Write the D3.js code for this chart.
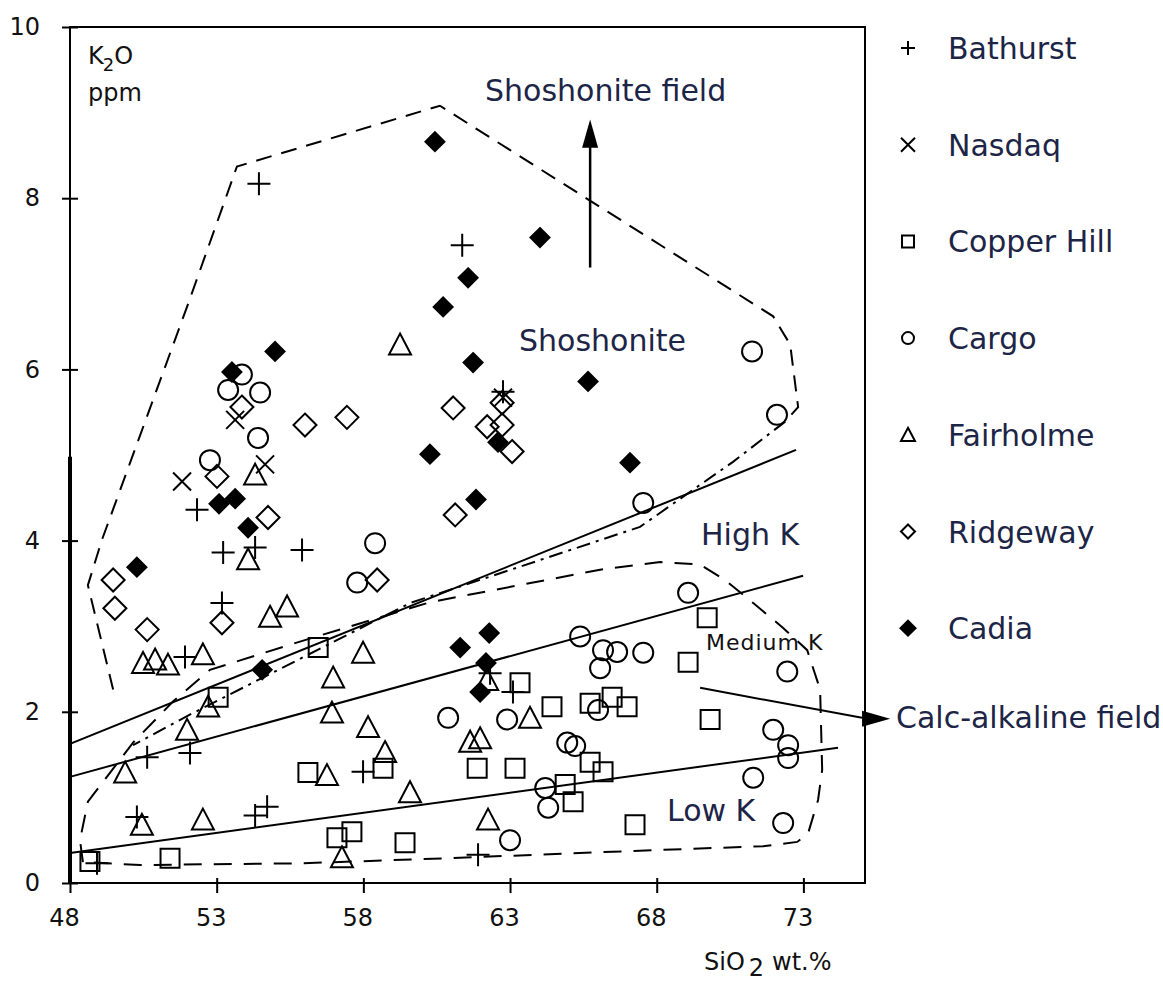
<!DOCTYPE html>
<html>
<head>
<meta charset="utf-8">
<script src="https://cdn.jsdelivr.net/npm/d3@7"></script>
<style>
body { margin: 0; background: #fff; }
svg { display: block; background: #fff; }
.tick text, .px { font-family: "DejaVu Sans", sans-serif; font-size: 24px; fill: #111; }
.lbl { font-family: "DejaVu Sans", sans-serif; font-size: 30px; fill: #1d2547; }
</style>
</head>
<body>
<svg id="chart" width="1163" height="985"></svg>
<script>
// K2O vs SiO2 plot: [SiO2 wt.%, K2O]
const bathurst = [[54.44,8.17],[61.37,7.45],[62.76,5.74],[52.33,4.36],[53.22,3.86],[54.31,3.92],[55.91,3.89],
  [53.18,3.27],[51.92,2.64],[50.63,1.47],[52.09,1.52],[57.99,1.30],[54.72,0.89],[54.31,0.79],[50.28,0.77],
  [48.92,0.23],[61.91,0.33],[62.32,2.45],[63.10,2.23]];
const nasdaq = [[53.63,5.41],[54.65,4.89],[51.82,4.69],[62.76,5.67]];
const copperHill = [[48.68,0.25],[51.41,0.29],[53.05,2.17],[56.11,1.29],[56.46,2.75],[57.10,0.53],[57.61,0.60],
  [58.67,1.34],[59.42,0.47],[61.88,1.34],[63.17,1.34],[63.34,2.34],[64.43,2.06],[65.73,2.10],[66.48,2.17],
  [66.99,2.06],[65.73,1.41],[66.17,1.30],[64.88,1.15],[65.15,0.95],[67.26,0.68],[69.07,2.58],[69.72,3.10],[69.82,1.91]];
const cargo = [[52.77,4.94],[53.39,5.76],[53.86,5.94],[54.48,5.73],[54.41,5.20],[58.40,3.97],[57.79,3.51],
  [60.89,1.93],[62.90,1.91],[63.00,0.50],[64.20,1.11],[64.30,0.88],[64.95,1.64],[65.22,1.60],[66.00,2.02],
  [65.39,2.88],[66.17,2.72],[66.65,2.70],[66.07,2.51],[67.54,2.69],[69.07,3.39],[72.45,2.47],[67.54,4.44],
  [71.25,6.21],[72.10,5.47],[71.97,1.79],[72.48,1.61],[72.48,1.46],[71.29,1.23],[72.31,0.70]];
const fairholme = [[54.31,4.77],[54.07,3.78],[54.82,3.11],[55.40,3.23],[50.49,2.57],[50.90,2.61],[51.34,2.55],
  [52.53,2.67],[52.71,2.06],[51.99,1.79],[49.88,1.29],[50.45,0.68],[52.53,0.74],[56.76,1.26],[56.93,1.99],
  [56.97,2.40],[57.99,2.69],[58.16,1.82],[58.74,1.53],[59.59,1.06],[57.27,0.30],[59.25,6.29],[61.64,1.65],
  [61.98,1.69],[63.68,1.93],[62.25,0.74],[62.22,2.37]];
const ridgeway = [[49.47,3.54],[49.53,3.21],[50.63,2.96],[53.18,3.04],[53.01,4.75],[53.86,5.56],[54.75,4.27],
  [56.01,5.35],[57.44,5.44],[58.47,3.54],[61.06,5.55],[62.22,5.33],[62.73,5.35],[62.73,5.61],[63.07,5.04],[61.13,4.30]];
const cadia = [[60.44,8.66],[64.02,7.54],[61.57,7.07],[60.72,6.73],[61.74,6.08],[65.66,5.86],[60.27,5.01],
  [62.59,5.15],[67.09,4.91],[61.84,4.48],[54.99,6.21],[53.52,5.97],[53.08,4.43],[53.63,4.49],[54.07,4.15],
  [50.28,3.69],[54.55,2.49],[61.30,2.75],[62.29,2.92],[62.18,2.57],[61.98,2.23]];

const seriesNames = ["Bathurst", "Nasdaq", "Copper Hill", "Cargo", "Fairholme", "Ridgeway", "Cadia"];
const seriesData = [bathurst, nasdaq, copperHill, cargo, fairholme, ridgeway, cadia];

// boundary lines
const lineShoshonite = [[48,1.625],[72.75,5.06]];
const lineHighK = [[48,1.24],[72.99,3.59]];
const lineLowK = [[48,0.35],[74.18,1.58]];
const shoshoniteField = [[49.47,2.26],[48.61,3.48],[49.09,4.01],[52.02,6.76],[53.69,8.37],[60.61,9.08],
  [71.97,6.62],[72.55,6.29],[72.82,5.56],[72.38,5.39]];
const shoshoniteBase = [[72.38,5.39],[70.60,4.92],[67.43,4.16],[59.59,3.27],[51.99,1.95],[50.15,1.61]];
const calcAlkField = [[48.44,0.245],[48.34,0.50],[48.61,0.95],[50.15,1.64],[51.51,2.12],[52.77,2.49],
  [55.84,2.82],[60.27,3.28],[66.07,3.66],[68.12,3.75],[69.48,3.72],[70.33,3.54],[71.29,3.27],[72.31,2.98],
  [73.13,2.72],[73.57,2.26],[73.64,1.32],[73.50,0.97],[73.16,0.58],[72.79,0.48],[71.63,0.43],[66.07,0.36],
  [60.96,0.29],[55.84,0.23],[50.39,0.21],[48.44,0.245]];

const xTicks = [48, 53, 58, 63, 68, 73];
const yTicks = [0, 2, 4, 6, 8, 10];

// marker look per series
const markerStyle = [
  {shape: "plus", r: 11.5, lr: 7, fill: "none"},
  {shape: "cross", r: 9, lr: 7, fill: "none"},
  {shape: "square", r: 9.5, lr: 6, fill: "none"},
  {shape: "circle", r: 10, lr: 6, fill: "none"},
  {shape: "triangle", r: 11, lr: 7, fill: "none"},
  {shape: "diamond", r: 11.5, lr: 7, fill: "none"},
  {shape: "diamond", r: 9.5, lr: 7.5, fill: "#000"}
];

function shapePath(type, s) {
  switch (type) {
    case "plus": return `M${-s},0H${s}M0,${-s}V${s}`;
    case "cross": return `M${-s},${-s}L${s},${s}M${-s},${s}L${s},${-s}`;
    case "square": return `M${-s},${-s}H${s}V${s}H${-s}Z`;
    case "circle": return `M${s},0A${s},${s} 0 1,1 ${-s},0A${s},${s} 0 1,1 ${s},0Z`;
    case "triangle": return `M0,${-s}L${s},${s*0.9}H${-s}Z`;
    case "diamond": return `M0,${-s}L${s},0L0,${s}L${-s},0Z`;
  }
}

const svg = d3.select("#chart");
const x = d3.scaleLinear().domain([48, 75.1]).range([70, 865]);
const y = d3.scaleLinear().domain([0, 10]).range([883, 27]);
const line = d3.line().x(d => x(d[0])).y(d => y(d[1]));

// plot frame
svg.append("rect")
  .attr("x", x(48)).attr("y", y(10))
  .attr("width", x(75.1) - x(48)).attr("height", y(0) - y(10))
  .attr("fill", "none").attr("stroke", "#000").attr("stroke-width", 2);
svg.append("line")
  .attr("x1", x(48)).attr("x2", x(48)).attr("y1", y(4.98)).attr("y2", y(0))
  .attr("stroke", "#000").attr("stroke-width", 4);

// axes
const yAxis = svg.append("g").attr("transform", `translate(${x(48)},0)`)
  .call(d3.axisLeft(y).tickValues(yTicks).tickSizeInner(8).tickSizeOuter(0).tickPadding(22));
yAxis.select(".domain").remove();
yAxis.selectAll(".tick line").attr("x1", 8).attr("stroke-width", 2);

const xAxis = svg.append("g").attr("transform", `translate(0,${y(0)})`)
  .call(d3.axisBottom(x).tickValues(xTicks).tickSizeInner(10).tickSizeOuter(0).tickPadding(16));
xAxis.select(".domain").remove();
xAxis.selectAll(".tick line").attr("y1", -5).attr("stroke-width", 2);
xAxis.selectAll(".tick text").attr("dx", -6);

// field boundaries and series lines
svg.append("path").datum(shoshoniteField).attr("d", line)
  .attr("fill", "none").attr("stroke", "#000").attr("stroke-width", 2).attr("stroke-dasharray", "16,10");
svg.append("path").datum(shoshoniteBase).attr("d", line)
  .attr("fill", "none").attr("stroke", "#000").attr("stroke-width", 2).attr("stroke-dasharray", "14,6,3,6");
svg.append("path").datum(calcAlkField).attr("d", line)
  .attr("fill", "none").attr("stroke", "#000").attr("stroke-width", 2).attr("stroke-dasharray", "18,12");
[lineShoshonite, lineHighK, lineLowK].forEach(l => {
  svg.append("path").datum(l).attr("d", line)
    .attr("fill", "none").attr("stroke", "#000").attr("stroke-width", 2);
});

// arrows
const arrowUp = [[65.73,7.19],[65.73,8.62]];
const arrowRight = [[69.48,2.28],[75.0,1.93]];
svg.append("path").datum(arrowUp).attr("d", line).attr("stroke", "#000").attr("stroke-width", 2.5);
svg.append("path").attr("fill", "#000")
  .attr("d", `M${x(65.73)},${y(8.92)}L${x(65.73)+8},${y(8.59)}L${x(65.73)-8},${y(8.59)}Z`);
svg.append("path").datum(arrowRight).attr("d", line).attr("stroke", "#000").attr("stroke-width", 2);
svg.append("path").attr("fill", "#000")
  .attr("d", `M${x(75.96)},${y(1.92)}L${x(75.0)},${y(1.92)-8}L${x(75.0)},${y(1.92)+8}Z`);

// markers
seriesData.forEach((pts, i) => {
  const st = markerStyle[i];
  svg.append("g").selectAll("path").data(pts).join("path")
    .attr("transform", d => `translate(${x(d[0])},${y(d[1])})`)
    .attr("d", shapePath(st.shape, st.r))
    .attr("fill", st.fill).attr("stroke", "#000").attr("stroke-width", 2);
});

// legend
const legend = svg.append("g");
seriesNames.forEach((name, i) => {
  const st = markerStyle[i];
  const ly = 48 + i * 96.7;
  legend.append("path").attr("transform", `translate(908,${ly})`)
    .attr("d", shapePath(st.shape, st.lr))
    .attr("fill", st.fill).attr("stroke", "#000").attr("stroke-width", 2);
  legend.append("text").attr("class", "lbl").attr("x", 948).attr("y", ly + 11).text(name);
});

// annotations
svg.append("text").attr("class", "lbl").attr("x", 485).attr("y", 101).text("Shoshonite field");
svg.append("text").attr("class", "lbl").attr("x", 519).attr("y", 351).text("Shoshonite");
svg.append("text").attr("class", "lbl").attr("x", 701).attr("y", 545).text("High K");
svg.append("text").attr("class", "lbl").attr("x", 667).attr("y", 821).text("Low K");
svg.append("text").attr("class", "lbl").attr("x", 896).attr("y", 728).text("Calc-alkaline field");
svg.append("text").attr("class", "px").attr("x", 706).attr("y", 650).style("font-size", "22px")
  .attr("letter-spacing", 1).text("Medium K");

const k2o = svg.append("text").attr("class", "px").attr("x", 88).attr("y", 64);
k2o.append("tspan").text("K");
k2o.append("tspan").style("font-size", "18px").attr("dy", 7).attr("dx", -1).text("2");
k2o.append("tspan").attr("dy", -7).text("O");
svg.append("text").attr("class", "px").attr("x", 88).attr("y", 101).text("ppm");

const si = svg.append("text").attr("class", "px").attr("x", 704).attr("y", 970);
si.append("tspan").text("SiO");
si.append("tspan").attr("dx", 4).attr("dy", 6).text("2");
si.append("tspan").attr("dx", 8).attr("dy", -6).text("wt.%");
</script>
</body>
</html>
